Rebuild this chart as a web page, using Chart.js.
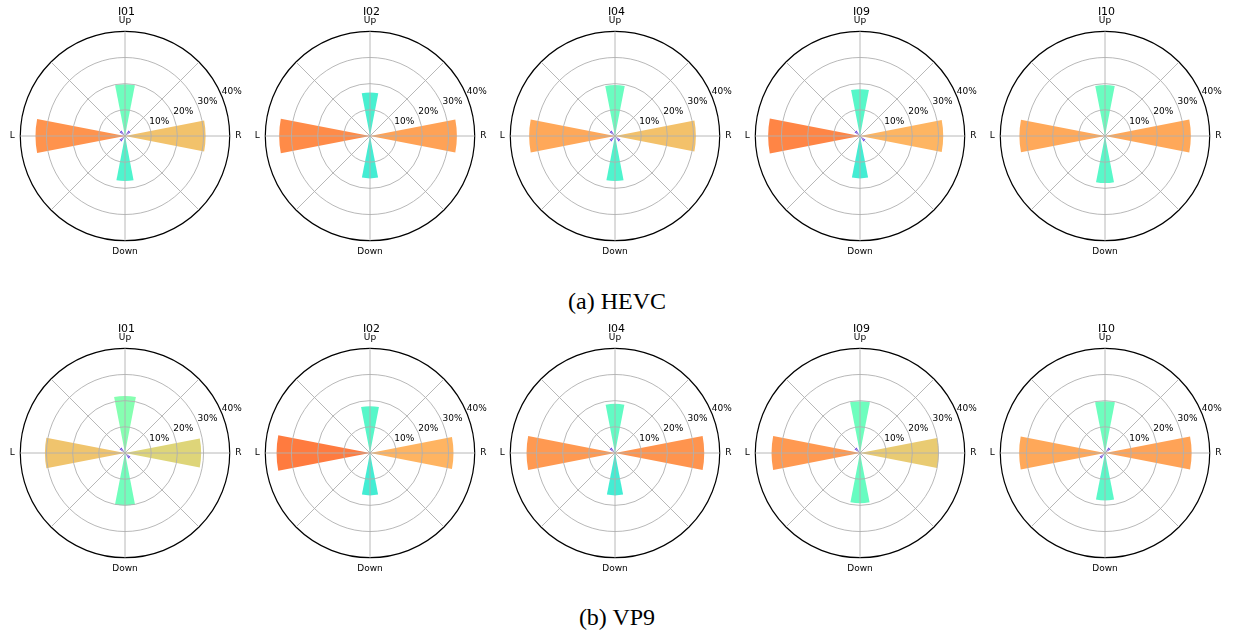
<!DOCTYPE html>
<html>
<head>
<meta charset="utf-8">
<script src="https://cdn.jsdelivr.net/npm/chart.js@4.4.0/dist/chart.umd.min.js"></script>
<style>
  html, body { margin: 0; padding: 0; background: #fff; }
  #page { position: relative; width: 1234px; height: 633px; overflow: hidden; }
  #page canvas { position: absolute; }
  .caption { position: absolute; left: 0; width: 1234px; text-align: center;
             font-family: 'Liberation Serif', 'Times New Roman', serif;
             font-size: 24px; line-height: 24px; color: #000; }
</style>
</head>
<body>
<div id="page">
  <div class="caption" style="top:289px">(a) HEVC</div>
  <div class="caption" style="top:605px">(b) VP9</div>
</div>
<script>
// clockwise from the top
const directions = ['Up', 'UR', 'R', 'DR', 'Down', 'DL', 'L', 'UL'];
const pointLabels = ['Up', '', 'R', '', 'Down', '', 'L', ''];
const sequences = ['I01', 'I02', 'I04', 'I09', 'I10'];
const rTicks = [0, 10, 20, 30, 40];

// share per direction (%), same order as `directions`
const hevcI01 = [19.8, 2.5, 30.8, 0, 17.2, 2.5, 34.2, 2.5];
const hevcI02 = [16.6, 0, 33.2, 0, 16.2, 0, 34.7, 0];
const hevcI04 = [19.5, 0, 30.9, 2.5, 17.2, 2.5, 32.8, 2.5];
const hevcI09 = [17.9, 0, 31.8, 2.5, 16.2, 0, 35.1, 2.5];
const hevcI10 = [19.5, 0, 32.8, 0, 18.0, 0, 32.7, 0];

const vp9I01 = [21.8, 0, 29.1, 2.5, 20.0, 0, 30.6, 2.5];
const vp9I02 = [17.9, 0, 31.9, 0, 16.2, 0, 35.7, 0];
const vp9I04 = [18.8, 0, 34.1, 0, 16.2, 0, 33.8, 2.5];
const vp9I09 = [19.8, 0, 30.0, 0, 19.2, 0, 33.8, 2.5];
const vp9I10 = [19.8, 2.5, 33.1, 0, 18.1, 2.5, 32.8, 0];

const rows = [
  [hevcI01, hevcI02, hevcI04, hevcI09, hevcI10],
  [vp9I01, vp9I02, vp9I04, vp9I09, vp9I10]
];

const BAR_W = 22;          // wedge width in degrees
const COLOR_NORM = 42.5;   // value at the red end of the colour map
const CLEAR = 'rgba(0,0,0,0)';

// matplotlib 'rainbow'
function rainbow(x) {
  const c = v => Math.round(255 * Math.min(1, Math.max(0, v)));
  return 'rgb(' + c(Math.abs(2 * x - 0.5)) + ',' + c(Math.sin(Math.PI * x)) + ',' + c(Math.cos(Math.PI * x / 2)) + ')';
}

// narrow wedges centred on each direction, with empty arcs as spacers
function wedges(values) {
  const data = [0], angle = [45 - BAR_W / 2], color = [CLEAR];
  for (let k = 1; k <= 8; k++) {
    const v = values[k % 8];
    data.push(v); angle.push(BAR_W); color.push(rainbow(v / COLOR_NORM));
    if (k < 8) { data.push(0); angle.push(45 - BAR_W); color.push(CLEAR); }
  }
  return { data, angle, color };
}

const rLabels = {
  id: 'rLabels',
  afterDraw(chart) {
    const s = chart.scales.r, ctx = chart.ctx;
    const a = -22.5 * Math.PI / 180;
    ctx.save();
    ctx.font = '9px "DejaVu Sans"';
    ctx.fillStyle = '#000';
    ctx.textAlign = 'left';
    ctx.textBaseline = 'bottom';
    s.ticks.forEach(t => {
      if (t.value <= 0) return;
      const d = s.getDistanceFromCenterForValue(t.value);
      ctx.fillText(t.value + '%', s.xCenter + d * Math.cos(a), s.yCenter + d * Math.sin(a));
    });
    ctx.restore();
  }
};

const page = document.getElementById('page');
const charts = [];

rows.forEach((row, r) => {
  row.forEach((values, i) => {
    const cv = document.createElement('canvas');
    cv.width = 245;
    cv.height = 272;
    cv.style.left = (4 + 245 * i) + 'px';
    cv.style.top = (r ? 317 : 0) + 'px';
    page.appendChild(cv);

    const w = wedges(values);
    charts.push(new Chart(cv, {
      type: 'polarArea',
      data: {
        labels: pointLabels,
        datasets: [{
          data: w.data,
          angle: w.angle,
          backgroundColor: w.color,
          borderWidth: 0
        }]
      },
      options: {
        animation: false,
        responsive: false,
        events: [],
        layout: { padding: { bottom: 14 } },
        plugins: {
          legend: { display: false },
          tooltip: { enabled: false },
          title: {
            display: true,
            text: sequences[i],
            color: '#000',
            font: { family: 'DejaVu Sans', size: 11, weight: 'normal', lineHeight: 1 },
            padding: { top: 7, bottom: -2 }
          }
        },
        scales: {
          r: {
            min: 0,
            max: 40,
            startAngle: 0,
            afterBuildTicks: s => { s.ticks = rTicks.map(v => ({ value: v })); },
            ticks: { display: false },
            grid: {
              circular: true,
              z: 1,
              color: c => (c.tick && c.tick.value === 40) ? '#000' : '#b0b0b0',
              lineWidth: c => (c.tick && c.tick.value === 40) ? 1.2 : 0.9
            },
            angleLines: { display: true, color: '#b0b0b0', lineWidth: 0.9 },
            pointLabels: {
              display: true,
              centerPointLabels: false,
              padding: 5.5,
              color: '#000',
              font: { family: 'DejaVu Sans', size: 9 }
            }
          }
        }
      },
      plugins: [rLabels]
    }));
  });
});
</script>
</body>
</html>
